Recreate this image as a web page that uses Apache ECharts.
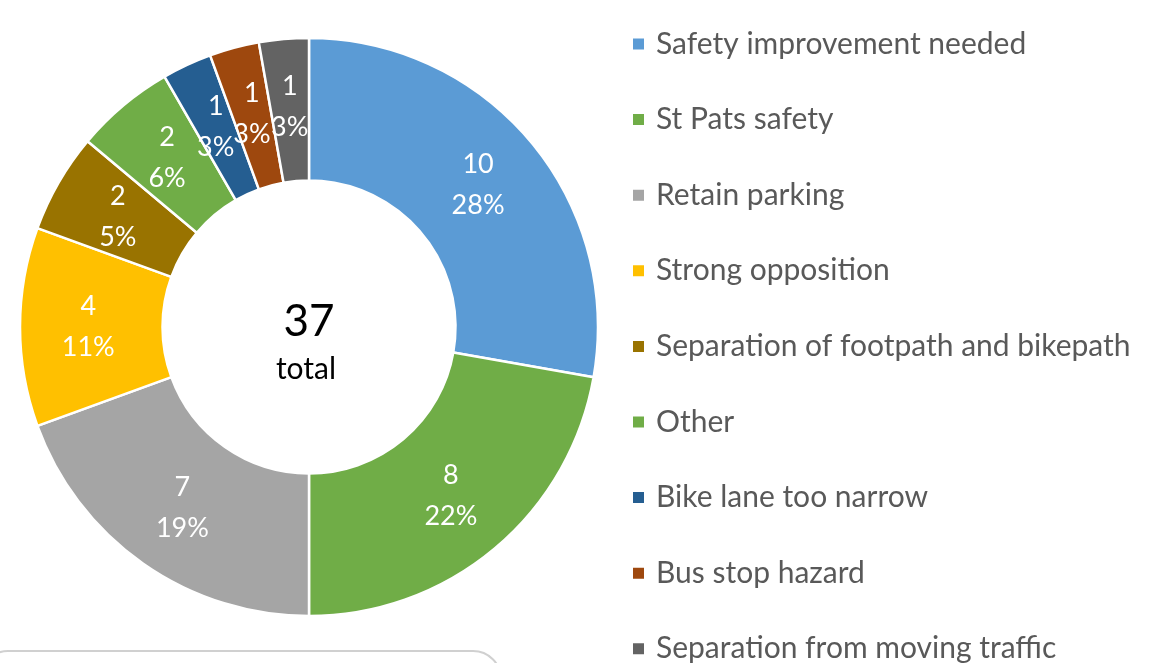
<!DOCTYPE html>
<html lang="en">
<head>
    <meta charset="UTF-8">
    <title>Feedback categories</title>
    <script src="https://cdn.jsdelivr.net/npm/echarts@6/dist/echarts.min.js"></script>
    <style>
        body { margin: 0; background: #fff; }
        #chart { width: 1157px; height: 663px; }
    </style>
</head>
<body>
    <div id="chart"></div>
    <script>
        const categories = [
            'Safety improvement needed',
            'St Pats safety',
            'Retain parking',
            'Strong opposition',
            'Separation of footpath and bikepath',
            'Other',
            'Bike lane too narrow',
            'Bus stop hazard',
            'Separation from moving traffic'
        ];
        const counts = [10, 8, 7, 4, 2, 2, 1, 1, 1];
        const percentLabels = ['28%', '22%', '19%', '11%', '5%', '6%', '3%', '3%', '3%'];
        const colors = ['#5B9BD5', '#70AD47', '#A5A5A5', '#FFC000', '#997300', '#70AD47', '#255E91', '#9E480E', '#636363'];
        const totalLabel = '37';

        const font = 'Lato, "Open Sans", sans-serif';
        const chart = echarts.init(document.getElementById('chart'));

        const option = {
            animation: false,
            color: colors,
            legend: {
                orient: 'vertical',
                left: 631,
                top: 29,
                padding: 0,
                height: 700,
                itemWidth: 13,
                itemHeight: 13,
                itemGap: 45.6,
                icon: 'rect',
                textStyle: { fontFamily: font, fontSize: 30, color: '#595959', padding: [0, 0, 0, 6] },
                data: categories
            },
            graphic: [
                {
                    type: 'text', x: 309, y: 322,
                    style: { text: totalLabel, font: '44px ' + font, fill: '#000', align: 'center', verticalAlign: 'middle' }
                },
                {
                    type: 'text', x: 306, y: 369,
                    style: { text: 'total', font: '30px ' + font, fill: '#000', align: 'center', verticalAlign: 'middle' }
                },
                {
                    type: 'rect',
                    shape: { x: -20, y: 651, width: 521, height: 60, r: 28 },
                    style: { fill: 'none', stroke: '#d0d0d0', lineWidth: 2 }
                }
            ],
            series: [{
                type: 'pie',
                center: [309, 327],
                radius: [146.5, 289],
                startAngle: 90,
                clockwise: true,
                avoidLabelOverlap: false,
                itemStyle: { borderColor: '#fff', borderWidth: 2.5 },
                label: {
                    show: true,
                    position: 'inside',
                    color: '#fff',
                    fontFamily: font,
                    fontSize: 27,
                    lineHeight: 41,
                    formatter: p => p.value + '\n' + percentLabels[p.dataIndex]
                },
                labelLayout: { hideOverlap: false },
                labelLine: { show: false },
                emphasis: { disabled: true },
                data: categories.map((name, i) => ({ name: name, value: counts[i] }))
            }]
        };

        chart.setOption(option);
    </script>
</body>
</html>
